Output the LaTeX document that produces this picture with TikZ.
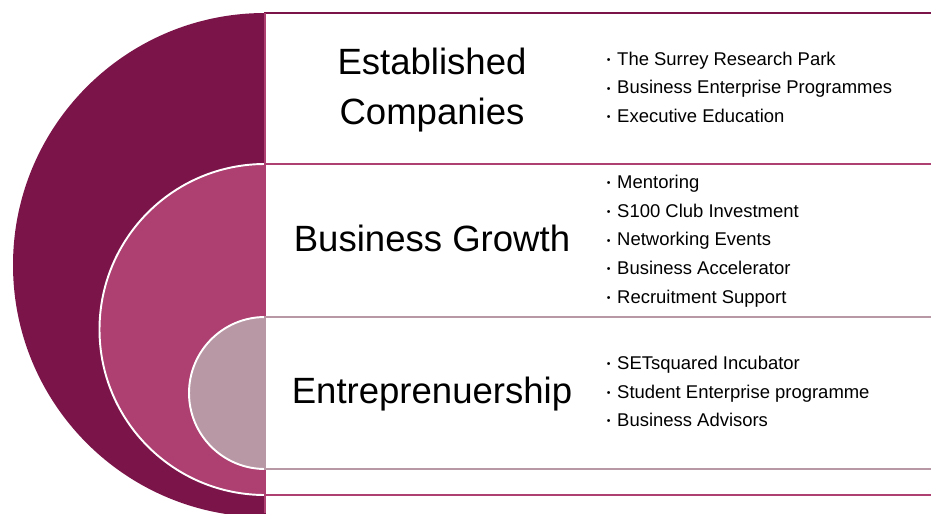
\documentclass[tikz,border=0pt]{standalone}
\usepackage{fontspec}
\setmainfont{Liberation Sans}
\usetikzlibrary{positioning}

\definecolor{ringdark}{HTML}{7B1449}
\definecolor{ringmid}{HTML}{AD4070}
\definecolor{ringlight}{HTML}{B898A4}

% small bullet in front of each list entry
\newcommand{\itm}{\makebox[7.9pt][l]{\hspace{2pt}\raisebox{1.0pt}{\fontsize{6}{6}\selectfont\textbullet}}}

\begin{document}
\begin{tikzpicture}[scale=0.2,
    heading/.style={font=\fontsize{20.8}{27.9}\selectfont, align=center, anchor=base},
    items/.style={font=\fontsize{10.5}{16.3}\selectfont, align=left, anchor=base west},
    band/.style={line width=1.1pt}]
    \tikzstyle{every node}+=[inner sep=0pt]
    \useasboundingbox (0,0) rectangle (93.1,-51.3);
    % nested half discs
    \begin{scope}
    \clip (0,0) rectangle (26.5,-51.3);
    \fill [ringdark] (26.5,-26.5) circle (25.2);
    \filldraw [fill=ringmid, draw=white, line width=1.1pt] (26.5,-32.95) circle (16.55);
    \filldraw [fill=ringlight, draw=white, line width=1.1pt] (26.5,-39.3) circle (7.6);
    \end{scope}
    % frames
    \draw [band, ringdark] (26.5,-1.3) rectangle (96,-53);
    \draw [band, ringmid] (26.5,-1.3) -- (26.5,-51.3);
    \draw [band, ringmid] (26.5,-16.4) rectangle (96,-49.5);
    \draw [band, ringlight] (26.5,-31.7) rectangle (96,-46.9);
    % headings (anchored on the last baseline)
    \node [heading] (established) at (43.2,-12.4) {Established\\Companies};
    \node [heading] (growth) at (43.2,-25.1) {Business Growth};
    \node [heading] (startup) at (43.2,-40.37) {Entreprenuership};
    % lists
    \node [items] (estlist) at (60.3,-12.24) {\itm The Surrey Research Park\\
        \itm Business Enterprise Programmes\\
        \itm Executive Education};
    \node [items] (growthlist) at (60.3,-30.31) {\itm Mentoring\\
        \itm S100 Club Investment\\
        \itm Networking Events\\
        \itm Business Accelerator\\
        \itm Recruitment Support};
    \node [items] (startuplist) at (60.3,-42.67) {\itm SETsquared Incubator\\
        \itm Student Enterprise programme\\
        \itm Business Advisors};
\end{tikzpicture}
\end{document}
